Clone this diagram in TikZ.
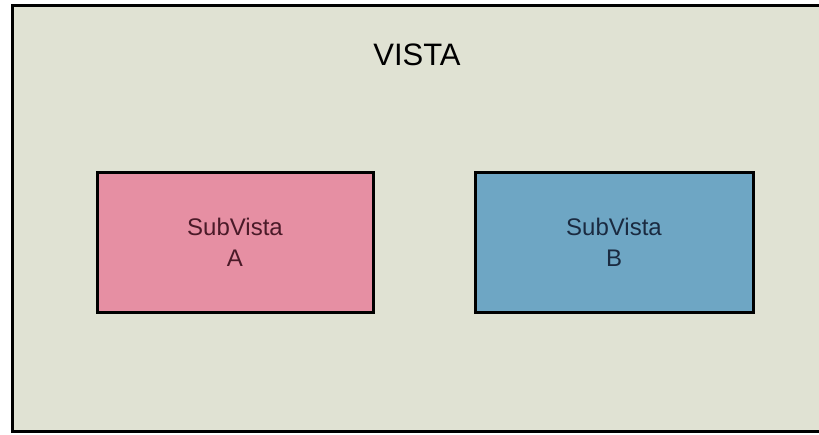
\documentclass[tikz,border=0pt]{standalone}
\usepackage{fontspec}
\setmainfont{Liberation Sans}
\definecolor{vistabg}{RGB}{224,226,211}
\definecolor{subpink}{RGB}{230,143,163}
\definecolor{subblue}{RGB}{110,166,196}
\definecolor{pinktext}{RGB}{74,26,40}
\definecolor{bluetext}{RGB}{26,42,64}
\tikzset{
	subbox/.style={draw=black, line width=3pt, minimum width=276pt, minimum height=140pt, inner sep=0pt, align=center, font=\fontsize{24}{31}\selectfont},
}
\begin{document}
\begin{tikzpicture}[x=1pt, y=-1pt]
		\useasboundingbox[clip] (0,0) rectangle (819,434);
		\fill[white] (0,0) rectangle (819,434);
		\filldraw[draw=black, line width=3pt, fill=vistabg] (12,5.5) rectangle (840,431.5);
		\node (vista) at (417,55) {\fontsize{31}{36}\selectfont VISTA};
		\node[subbox, fill=subpink, text=pinktext] (subA) at (235,242.5) {SubVista\\A};
		\node[subbox, fill=subblue, text=bluetext, minimum width=278pt] (subB) at (614,242) {SubVista\\B};
	\end{tikzpicture}
\end{document}
